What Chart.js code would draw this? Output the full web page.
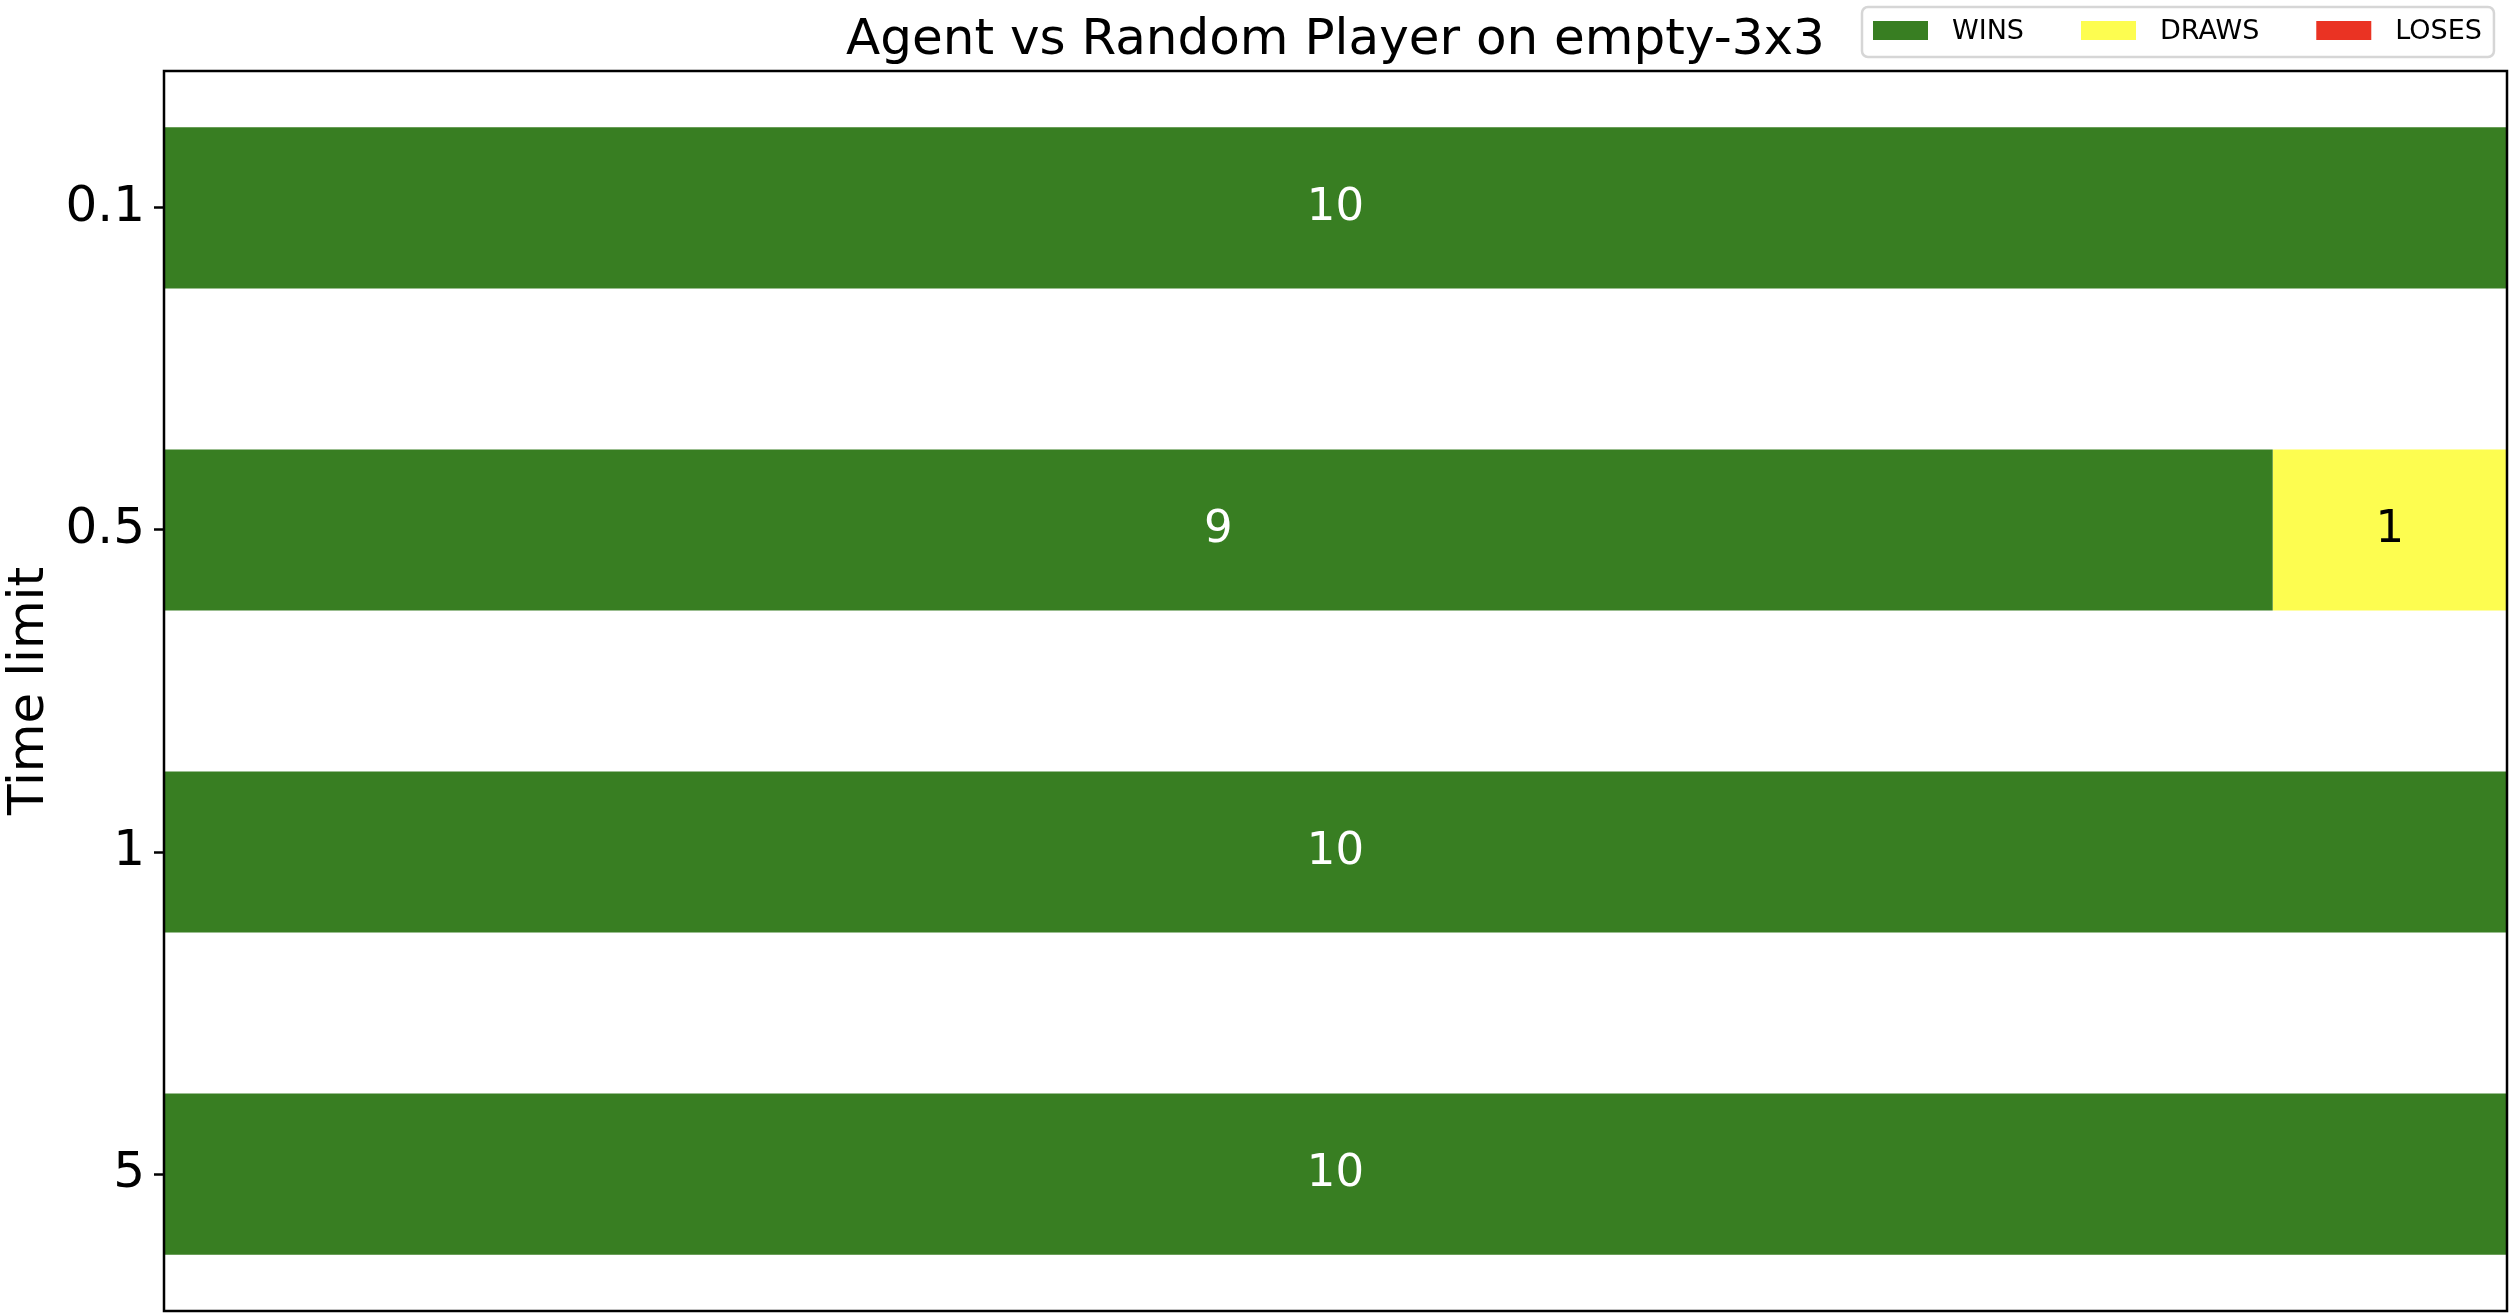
<!DOCTYPE html>
<html><head><meta charset="utf-8">
<script src="https://cdn.jsdelivr.net/npm/chart.js@4"></script>
<style>html,body{margin:0;padding:0;background:#fff;} canvas{display:block;}</style>
</head><body>
<canvas id="c" width="2510" height="1314"></canvas>
<script>
// ---- data ----
const categories = ['0.1', '0.5', '1', '5'];
const seriesNames = ['WINS', 'DRAWS', 'LOSES'];
const wins  = [10, 9, 10, 10];
const draws = [0, 1, 0, 0];
const loses = [0, 0, 0, 0];
const colors = ['#387e22', '#fdfd50', '#ea3323'];
const labelColors = ['#ffffff', '#000000', '#ffffff'];
const titleText = 'Agent vs Random Player on empty-3x3';
const yTitle = 'Time limit';
const FONT = "'DejaVu Sans', sans-serif";

const series = [wins, draws, loses];
const datasets = series.map((vals, s) => ({
  label: seriesNames[s],
  data: vals.map((v, i) => ({ x: v, y: i })),
  backgroundColor: colors[s],
  borderWidth: 0,
  categoryPercentage: 1,
  barPercentage: 0.5
}));

const framePlugin = {
  id: 'frame',
  afterDatasetsDraw(chart) {
    const { ctx, chartArea: a } = chart;
    ctx.save();
    ctx.strokeStyle = '#000';
    ctx.lineWidth = 2.5;
    ctx.strokeRect(a.left, a.top, a.right - a.left, a.bottom - a.top);
    ctx.restore();
  }
};

const valueLabels = {
  id: 'valueLabels',
  afterDatasetsDraw(chart) {
    const ctx = chart.ctx;
    ctx.save();
    ctx.font = '45px ' + FONT;
    ctx.textAlign = 'center';
    ctx.textBaseline = 'alphabetic';
    chart.data.datasets.forEach((ds, s) => {
      const meta = chart.getDatasetMeta(s);
      meta.data.forEach((bar, i) => {
        const v = series[s][i];
        if (!v) return;
        const p = bar.getProps(['x', 'y', 'base'], true);
        ctx.fillStyle = labelColors[s];
        ctx.fillText(String(v), (p.x + p.base) / 2, p.y + 12);
      });
    });
    ctx.restore();
  }
};

const titleLegend = {
  id: 'titleLegend',
  afterDraw(chart) {
    const { ctx, chartArea: a } = chart;
    ctx.save();
    // title
    ctx.font = '50px ' + FONT;
    ctx.fillStyle = '#000';
    ctx.textAlign = 'center';
    ctx.textBaseline = 'alphabetic';
    ctx.fillText(titleText, (a.left + a.right) / 2, 54);
    // legend
    ctx.font = '27px ' + FONT;
    const boxL = 1862, boxT = 7, boxH = 50;
    let x = boxL + 11;
    const items = [];
    seriesNames.forEach((n, s) => {
      const w = ctx.measureText(n).width;
      items.push({ n, s, sx: x, tx: x + 55 + 24, w });
      x += 55 + 24 + w + 57;
    });
    const boxR = x - 57 + 12;
    ctx.beginPath();
    ctx.roundRect(boxL, boxT, boxR - boxL, boxH, 6);
    ctx.fillStyle = 'rgba(255,255,255,0.8)';
    ctx.fill();
    ctx.strokeStyle = '#d6d6d6';
    ctx.lineWidth = 2.5;
    ctx.stroke();
    items.forEach(it => {
      ctx.fillStyle = colors[it.s];
      ctx.fillRect(it.sx, 21, 55, 19);
      ctx.fillStyle = '#000';
      ctx.textAlign = 'left';
      ctx.fillText(it.n, it.tx, 39);
    });
    ctx.restore();
  }
};

new Chart(document.getElementById('c'), {
  type: 'bar',
  data: { datasets },
  plugins: [framePlugin, valueLabels, titleLegend],
  options: {
    responsive: false,
    animation: false,
    devicePixelRatio: 1,
    indexAxis: 'y',
    layout: { padding: { top: 71, right: 3, bottom: 3, left: 0 } },
    plugins: { legend: { display: false }, title: { display: false }, tooltip: { enabled: false } },
    scales: {
      x: { type: 'linear', display: false, min: 0, max: 10, stacked: true },
      y: {
        type: 'linear', reverse: true, min: -0.425, max: 3.425, stacked: true,
        offset: false,
        afterBuildTicks(scale) { scale.ticks = categories.map((_, i) => ({ value: i })); },
        afterFit(scale) { scale.width = 164; scale.paddingTop = 0; scale.paddingBottom = 0; },
        ticks: {
          callback: (v) => categories[v],
          font: { family: FONT, size: 50 },
          color: '#000',
          padding: 9
        },
        grid: { offset: false, drawOnChartArea: false, drawTicks: true, tickLength: 10, tickWidth: 2.5, tickColor: '#000' },
        border: { display: false },
        title: { display: true, text: yTitle, font: { family: FONT, size: 50 }, color: '#000', padding: { top: 0, bottom: 0 } }
      }
    }
  }
});
</script>
</body></html>
